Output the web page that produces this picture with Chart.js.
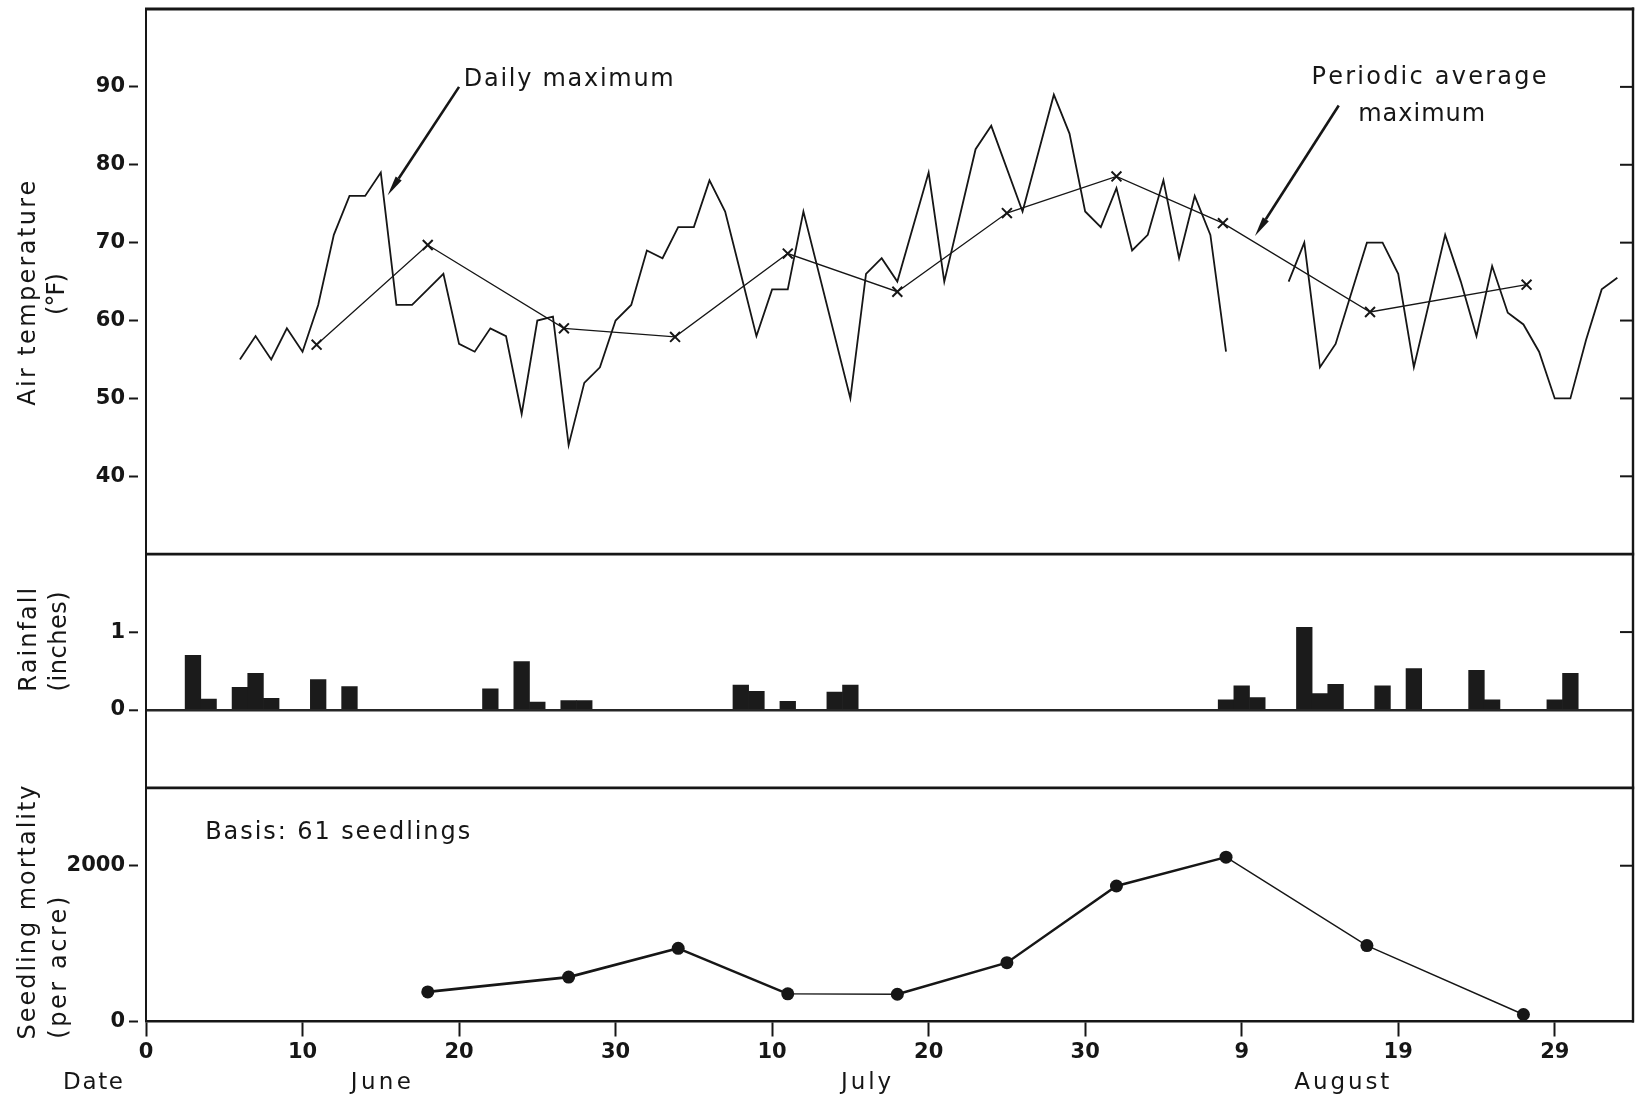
<!DOCTYPE html>
<html lang="en">
<head>
<meta charset="utf-8">
<title>Air temperature, rainfall and seedling mortality</title>
<script src="https://cdn.jsdelivr.net/npm/chart.js@4.4.1/dist/chart.umd.min.js"></script>
<style>
  html, body { margin: 0; padding: 0; background: #fff; }
  canvas { display: block; }
</style>
</head>
<body>
<canvas id="chart" width="1642" height="1101"></canvas>
<script>
// Day numbers run from 0 (31 May): 10 = June 10, 40 = July 10, 70 = August 9.

// Daily maximum air temperature (°F); null marks the break in the record.
const dailyDays = [
  6, 7, 8, 9, 10, 11, 12, 13, 14, 15, 16, 17, 18, 19, 20, 21, 22, 23, 24, 25,
  26, 27, 28, 29, 30, 31, 32, 33, 34, 35, 36, 37, 38, 39, 40, 41, 42, 45, 46, 47,
  48, 50, 51, 53, 54, 56, 58, 59, 60, 61, 62, 63, 64, 65, 66, 67, 68, 69, 70,
  73, 74, 75, 76, 78, 79, 80, 81, 83, 84, 85, 86, 87, 88, 89, 90, 91, 92, 93, 94
];
const dailyMaxF = [
  55, 58, 55, 59, 56, 62, 71, 76, 76, 79, 62, 62, 64, 66, 57, 56, 59, 58, 48, 60,
  60.5, 44, 52, 54, 60, 62, 69, 68, 72, 72, 78, 74, 66, 58, 64, 64, 74, 50, 66, 68,
  65, 79, 65, 82, 85, 74, 89, 84, 74, 72, 77, 69, 71, 78, 68, 76, 71, 56, null,
  65, 70, 54, 57, 70, 70, 66, 54, 71, 65, 58, 67, 61, 59.5, 56, 50, 50, 57.5, 64, 65.5
];

// Periodic average maximum (°F)
const periodDays = [10.9, 18, 26.7, 33.8, 41, 48, 55, 62, 68.8, 78.2, 88.2];
const periodAvgF = [56.9, 69.7, 59, 57.9, 68.6, 63.7, 73.8, 78.5, 72.5, 61.1, 64.6];

// Daily rainfall (inches)
const rainDays = [3, 4, 6, 7, 8, 11, 13, 22, 24, 25, 27, 28, 38, 39, 41, 44, 45,
                  69, 70, 71, 74, 75, 76, 79, 81, 85, 86, 90, 91];
const rainInches = [0.70, 0.14, 0.29, 0.47, 0.15, 0.39, 0.30, 0.27, 0.62, 0.10, 0.12, 0.12,
                    0.32, 0.24, 0.11, 0.23, 0.32, 0.13, 0.31, 0.16, 1.06, 0.21, 0.33, 0.31,
                    0.53, 0.51, 0.13, 0.13, 0.47];

// Seedling mortality (per acre)
const mortDays = [18, 27, 34, 41, 48, 55, 62, 69, 78, 88];
const mortPerAcre = [380, 570, 940, 355, 350, 755, 1740, 2110, 975, 90];

// Axis ticks and labels
const xTickDays = [0, 10, 20, 30, 40, 50, 60, 70, 80, 90];
const xTickLabels = ['0', '10', '20', '30', '10', '20', '30', '9', '19', '29'];
const monthNames = ['June', 'July', 'August'];
const monthCenterDays = [15, 46, 76.4];
const tempTicks = [40, 50, 60, 70, 80, 90];
const rainTicks = [0, 1];
const mortTicks = [0, 2000];

// ---- styling -------------------------------------------------------------
const INK = '#161616';
const WORD_FONT = "'DejaVu Sans', sans-serif";
const NUM_FONT = "'DejaVu Sans', sans-serif";
const TICK_FONT = { family: NUM_FONT, size: 21, weight: 'bold' };
const mortSegmentWidths = [2.6, 2.6, 2.4, 1.4, 2.4, 2.4, 2.4, 1.4, 1.4];

const pts = (xs, ys) => xs.map((x, i) => ({ x, y: ys[i] }));
const fixedTicks = values => scale => { scale.ticks = values.map(v => ({ value: v })); };

function leftAxis(stackWeight, min, max, tickValues, extraGrid) {
  return {
    type: 'linear', position: 'left', stack: 'panels', stackWeight, min, max,
    afterBuildTicks: fixedTicks(tickValues),
    afterFit: s => { s.width = 146; s.paddingTop = 0; s.paddingBottom = 0; },
    border: { display: true, color: INK, width: 2 },
    grid: Object.assign({
      drawOnChartArea: false, drawTicks: true, tickLength: 17,
      tickColor: INK, tickWidth: 2, tickBorderDash: [9, 40]
    }, extraGrid || {}),
    ticks: { color: INK, font: TICK_FONT, padding: 4, callback: v => String(v) }
  };
}

// Letter-spaced text: characters are spread so the string spans `width`.
function drawTracked(ctx, text, x, y, width, align) {
  const chars = Array.from(text);
  const adv = chars.map(c => ctx.measureText(c).width);
  const natural = adv.reduce((s, w) => s + w, 0);
  const gap = chars.length > 1 ? (width - natural) / (chars.length - 1) : 0;
  let cx = align === 'center' ? x - width / 2 : x;
  ctx.textAlign = 'left';
  chars.forEach((c, i) => { ctx.fillText(c, cx, y); cx += adv[i] + gap; });
}

function drawArrow(ctx, x0, y0, x1, y1) {
  const ang = Math.atan2(y1 - y0, x1 - x0);
  const headLen = 20, headHalf = 3.6;
  const bx = x1 - Math.cos(ang) * headLen, by = y1 - Math.sin(ang) * headLen;
  ctx.lineWidth = 2.6;
  ctx.beginPath(); ctx.moveTo(x0, y0); ctx.lineTo(bx, by); ctx.stroke();
  ctx.beginPath();
  ctx.moveTo(x1, y1);
  ctx.lineTo(bx + Math.sin(ang) * headHalf, by - Math.cos(ang) * headHalf);
  ctx.lineTo(bx - Math.sin(ang) * headHalf, by + Math.cos(ang) * headHalf);
  ctx.closePath(); ctx.fill();
}

// Annotation and title layout (anchored in data units where it sits in a panel)
const notes = [
  { text: 'Daily maximum', axis: 'yT', day: 20.3, value: 90.9, width: 210, align: 'left' },
  { text: 'Periodic average', axis: 'yT', day: 74.46, value: 91.2, width: 235, align: 'left' },
  { text: 'maximum', axis: 'yT', day: 81.5, value: 86.4, width: 127, align: 'center' },
  { text: 'Basis: 61 seedlings', axis: 'yM', day: 3.78, value: 2420, width: 265, align: 'left' }
];
const arrows = [
  { axis: 'yT', from: [20.0, 90.0], to: [15.44, 76.1] },
  { axis: 'yT', from: [76.2, 87.6], to: [70.85, 70.85] }
];
const axisTitles = [
  { text: 'Air temperature', axis: 'yT', x: 28.5, value: 63.5, width: 225 },
  { text: '(°F)', axis: 'yT', x: 58, value: 63.4, width: 42 },
  { text: 'Rainfall', axis: 'yR', x: 30, value: 0.9, width: 104 },
  { text: '(inches)', axis: 'yR', x: 60, value: 0.88, width: 100 },
  { text: 'Seedling mortality', axis: 'yM', x: 29, value: 1400, width: 254 },
  { text: '(per acre)', axis: 'yM', x: 60, value: 690, width: 142 }
];
const monthWidths = [60, 50, 95];

const panelFrame = {
  id: 'panelFrame',
  afterDraw(chart) {
    const { ctx, chartArea: a, scales } = chart;
    ctx.save();
    ctx.strokeStyle = INK;
    ctx.lineCap = 'butt';
    const seg = (x0, y0, x1, y1, w) => {
      ctx.lineWidth = w; ctx.beginPath(); ctx.moveTo(x0, y0); ctx.lineTo(x1, y1); ctx.stroke();
    };
    // top edge and the rules between panels
    [scales.yT.top, scales.yR.top, scales.yM.top].forEach(y => seg(a.left - 1, y, a.right + 1.2, y, 2.8));
    // right edge
    seg(a.right, a.top - 1.4, a.right, a.bottom + 1, 2.4);
    // inward tick marks on the right edge
    const rightTicks = [['yT', tempTicks], ['yR', rainTicks.filter(v => v !== 0)], ['yM', mortTicks.filter(v => v !== 0)]];
    rightTicks.forEach(([id, vals]) => vals.forEach(v => {
      const y = scales[id].getPixelForValue(v);
      seg(a.right - 13, y, a.right, y, 2);
    }));
    ctx.restore();
  }
};

const textLayer = {
  id: 'textLayer',
  afterDraw(chart) {
    const { ctx, chartArea: a, scales } = chart;
    const xs = scales.x;
    ctx.save();
    ctx.fillStyle = INK;
    ctx.strokeStyle = INK;
    ctx.textBaseline = 'middle';

    ctx.font = `24px ${WORD_FONT}`;
    notes.forEach(n => {
      drawTracked(ctx, n.text, xs.getPixelForValue(n.day), scales[n.axis].getPixelForValue(n.value), n.width, n.align);
    });

    arrows.forEach(ar => {
      const s = scales[ar.axis];
      drawArrow(ctx, xs.getPixelForValue(ar.from[0]), s.getPixelForValue(ar.from[1]),
                xs.getPixelForValue(ar.to[0]), s.getPixelForValue(ar.to[1]));
    });

    // rotated panel titles
    ctx.font = `24px ${WORD_FONT}`;
    axisTitles.forEach(t => {
      ctx.save();
      ctx.translate(t.x, scales[t.axis].getPixelForValue(t.value));
      ctx.rotate(-Math.PI / 2);
      drawTracked(ctx, t.text, 0, 0, t.width, 'center');
      ctx.restore();
    });

    // date row under the tick labels
    const rowY = a.bottom + 62;
    ctx.font = `23px ${WORD_FONT}`;
    drawTracked(ctx, 'Date', 93, rowY, 60, 'center');
    monthNames.forEach((m, i) => {
      drawTracked(ctx, m, xs.getPixelForValue(monthCenterDays[i]), rowY, monthWidths[i], 'center');
    });
    ctx.restore();
  }
};

Chart.defaults.font.family = NUM_FONT;
Chart.defaults.color = INK;

new Chart(document.getElementById('chart'), {
  type: 'line',
  data: {
    datasets: [
      {
        label: 'Daily maximum',
        data: pts(dailyDays, dailyMaxF),
        yAxisID: 'yT',
        borderColor: INK, borderWidth: 1.8,
        pointRadius: 0, tension: 0, spanGaps: false
      },
      {
        label: 'Periodic average maximum',
        data: pts(periodDays, periodAvgF),
        yAxisID: 'yT',
        borderColor: INK, borderWidth: 1.3,
        pointStyle: 'crossRot', pointRadius: 7, pointBorderWidth: 2,
        pointBorderColor: INK, pointBackgroundColor: INK, tension: 0
      },
      {
        type: 'bar',
        label: 'Rainfall',
        data: pts(rainDays, rainInches),
        yAxisID: 'yR',
        backgroundColor: '#1b1b1b', borderWidth: 0,
        barPercentage: 1, categoryPercentage: 1
      },
      {
        label: 'Seedling mortality',
        data: pts(mortDays, mortPerAcre),
        yAxisID: 'yM',
        borderColor: INK, borderWidth: 2,
        segment: { borderWidth: c => mortSegmentWidths[c.p0DataIndex] },
        pointRadius: 6.5, pointBackgroundColor: INK, pointBorderColor: INK, pointBorderWidth: 0,
        tension: 0
      }
    ]
  },
  options: {
    responsive: false,
    animation: false,
    devicePixelRatio: 1,
    layout: { padding: { top: 8.5, right: 8.5, bottom: 0, left: 0 } },
    plugins: { legend: { display: false }, tooltip: { enabled: false } },
    scales: {
      x: {
        type: 'linear', position: 'bottom', min: 0, max: 95, offset: false,
        afterBuildTicks: fixedTicks(xTickDays),
        afterFit: s => { s.height = 79.5; },
        border: { display: true, color: INK, width: 2.4 },
        grid: { offset: false, drawOnChartArea: false, tickLength: 15, tickColor: INK, tickWidth: 2 },
        ticks: {
          color: INK, font: TICK_FONT, padding: 3, maxRotation: 0, autoSkip: false,
          callback: v => xTickLabels[xTickDays.indexOf(v)]
        }
      },
      // listed bottom-up: the left stack places the last one at the top
      yM: leftAxis(3, 0, 3000, mortTicks),
      yR: leftAxis(3, -1, 2, rainTicks, {
        drawOnChartArea: true,
        color: c => (c.tick && c.tick.value === 0 ? '#262626' : 'rgba(0,0,0,0)'),
        lineWidth: 2.6
      }),
      yT: leftAxis(7, 30, 100, tempTicks)
    }
  },
  plugins: [panelFrame, textLayer]
});
</script>
</body>
</html>
